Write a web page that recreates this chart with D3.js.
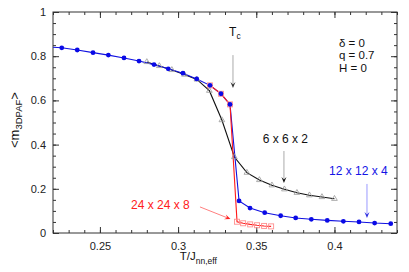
<!DOCTYPE html>
<html>
<head>
<meta charset="utf-8">
<script src="https://cdn.jsdelivr.net/npm/d3@7"></script>
<style>
  body { margin: 0; background: #fff; }
  text { font-family: "Liberation Sans", Arial, sans-serif; }
</style>
</head>
<body>
<div id="chart"></div>
<script>
// 12 x 12 x 4 (blue, filled circles)
const tBlue = [0.2158, 0.2256, 0.2355, 0.2456, 0.2554, 0.2654, 0.2750, 0.2846, 0.2937, 0.3031, 0.3119,
    0.3204, 0.3274, 0.3332, 0.3390, 0.3460, 0.3554, 0.3656, 0.3752, 0.3852, 0.3954, 0.4057, 0.4157, 0.4257, 0.4360];
const mBlue = [0.842, 0.838, 0.828, 0.816, 0.805, 0.792, 0.778, 0.762, 0.743, 0.723, 0.697,
    0.668, 0.630, 0.582, 0.145, 0.113, 0.092, 0.078, 0.068, 0.062, 0.057, 0.053, 0.050, 0.045, 0.042];

// 24 x 24 x 8 (red, open squares)
const tRed = [0.3204, 0.3274, 0.3332, 0.3377, 0.3416, 0.3461, 0.3505, 0.3550, 0.3595];
const mRed = [0.668, 0.630, 0.582, 0.051, 0.044, 0.039, 0.035, 0.032, 0.030];

// 6 x 6 x 2 (black, open triangles)
const tBlack = [0.28, 0.288, 0.296, 0.304, 0.312, 0.32, 0.328, 0.336, 0.344, 0.352, 0.36, 0.368, 0.376, 0.384, 0.392, 0.4];
const mBlack = [0.774, 0.756, 0.738, 0.717, 0.695, 0.644, 0.511, 0.344, 0.273, 0.240, 0.216, 0.198, 0.182, 0.171, 0.163, 0.155];

const xTicks = [0.25, 0.3, 0.35, 0.4];
const yTicks = [0, 0.2, 0.4, 0.6, 0.8, 1];

const width = 409, height = 272;
const margin = {top: 12, right: 12, bottom: 39, left: 53};
const w = width - margin.left - margin.right;
const h = height - margin.top - margin.bottom;

let svg = d3.select("#chart")
    .append("svg")
    .attr("width", width)
    .attr("height", height)
    .append("g")
    .attr("transform", `translate(${margin.left}, ${margin.top})`);

let x = d3.scaleLinear().domain([0.22, 0.44]).range([0, w]);
let y = d3.scaleLinear().domain([0, 1]).range([h, 0]);

const axisColor = "#333";

// minor ticks every 0.01 / 0.05, inward on all four sides
const xMinor = d3.range(0.22, 0.4401, 0.01);
const yMinor = d3.range(0, 1.001, 0.05);

function styleAxis(g) {
    g.select(".domain").remove();
    g.selectAll("line").attr("stroke", axisColor);
    g.selectAll("text")
        .attr("fill", "#222")
        .style("font-size", "11px");
}

svg.append("g").attr("transform", `translate(0, ${h})`)
    .call(d3.axisBottom(x).tickValues(xMinor).tickSize(-3).tickFormat(""))
    .call(styleAxis);
svg.append("g")
    .call(d3.axisTop(x).tickValues(xMinor).tickSize(-3).tickFormat(""))
    .call(styleAxis);
svg.append("g").attr("transform", `translate(0, ${h})`)
    .call(d3.axisBottom(x).tickValues(xTicks).tickSize(-6).tickPadding(9).tickFormat(d3.format("")))
    .call(styleAxis);
svg.append("g")
    .call(d3.axisTop(x).tickValues(xTicks).tickSize(-6).tickFormat(""))
    .call(styleAxis);

svg.append("g")
    .call(d3.axisLeft(y).tickValues(yMinor).tickSize(-3).tickFormat(""))
    .call(styleAxis);
svg.append("g").attr("transform", `translate(${w}, 0)`)
    .call(d3.axisRight(y).tickValues(yMinor).tickSize(-3).tickFormat(""))
    .call(styleAxis);
svg.append("g")
    .call(d3.axisLeft(y).tickValues(yTicks).tickSize(-6).tickPadding(7).tickFormat(d3.format("")))
    .call(styleAxis);
svg.append("g").attr("transform", `translate(${w}, 0)`)
    .call(d3.axisRight(y).tickValues(yTicks).tickSize(-6).tickFormat(""))
    .call(styleAxis);

// frame
svg.append("rect")
    .attr("width", w)
    .attr("height", h)
    .attr("fill", "none")
    .attr("stroke", axisColor)
    .attr("stroke-width", 1);

svg.append("clipPath").attr("id", "clip")
    .append("rect").attr("width", w).attr("height", h);

let plot = svg.append("g").attr("clip-path", "url(#clip)");

const toPts = (ts, ms) => ts.map((t, i) => [t, ms[i]]);
const blue = toPts(tBlue, mBlue);
const red = toPts(tRed, mRed);
const black = toPts(tBlack, mBlack);

let line = d3.line()
    .x(function (d) { return x(d[0]); })
    .y(function (d) { return y(d[1]); });

plot.append("path").datum(black)
    .attr("d", line).attr("fill", "none")
    .attr("stroke", "#111").attr("stroke-width", 1.1);

plot.append("path").datum(blue)
    .attr("d", line).attr("fill", "none")
    .attr("stroke", "#1010e0").attr("stroke-width", 1.1);

plot.append("path").datum(red)
    .attr("d", line).attr("fill", "none")
    .attr("stroke", "#ff1a1a").attr("stroke-width", 1.1);

// open squares
plot.selectAll("rect.red")
    .data(red)
    .enter()
    .append("rect")
    .attr("class", "red")
    .attr("x", function (d) { return x(d[0]) - 2.5; })
    .attr("y", function (d) { return y(d[1]) - 2.5; })
    .attr("width", 5)
    .attr("height", 5)
    .attr("fill", "none")
    .attr("stroke", "#ff8f8f")
    .attr("stroke-width", 0.9);

// open triangles
let tri = d3.symbol().type(d3.symbolTriangle).size(14);
plot.selectAll("path.tri")
    .data(black)
    .enter()
    .append("path")
    .attr("class", "tri")
    .attr("d", tri)
    .attr("transform", function (d) { return `translate(${x(d[0])}, ${y(d[1])})`; })
    .attr("fill", "none")
    .attr("stroke", "#999")
    .attr("stroke-width", 0.8);

// filled circles
plot.selectAll("circle")
    .data(blue)
    .enter()
    .append("circle")
    .attr("cx", function (d) { return x(d[0]); })
    .attr("cy", function (d) { return y(d[1]); })
    .attr("r", 2.4)
    .attr("fill", "#0a0ae6");

// arrows (line + small head), positioned in data coordinates
function arrow(t1, m1, t2, m2, lineColor, headColor) {
    const x1 = x(t1), y1 = y(m1), x2 = x(t2), y2 = y(m2);
    const ang = Math.atan2(y2 - y1, x2 - x1);
    const len = 6, half = 2.5;
    svg.append("line")
        .attr("x1", x1).attr("y1", y1)
        .attr("x2", x2 - Math.cos(ang) * 3).attr("y2", y2 - Math.sin(ang) * 3)
        .attr("stroke", lineColor).attr("stroke-width", 1);
    const bx = x2 - Math.cos(ang) * len, by = y2 - Math.sin(ang) * len;
    const px = -Math.sin(ang) * half, py = Math.cos(ang) * half;
    svg.append("path")
        .attr("d", `M${x2},${y2}L${bx + px},${by + py}L${x2 - Math.cos(ang) * 3.5},${y2 - Math.sin(ang) * 3.5}L${bx - px},${by - py}Z`)
        .attr("fill", headColor);
}

arrow(0.3351, 0.805, 0.3351, 0.656, "#aaa", "#333");
arrow(0.3677, 0.371, 0.3677, 0.226, "#aaa", "#111");
arrow(0.4208, 0.222, 0.4208, 0.068, "#9a9aff", "#3030e0");
arrow(0.314, 0.118, 0.3335, 0.063, "#ff8080", "#ff2020");

// labels
function addText(t, m, str, color, size, anchor) {
    return svg.append("text")
        .attr("x", x(t)).attr("y", y(m))
        .attr("fill", color)
        .attr("text-anchor", anchor || "start")
        .style("font-size", size + "px")
        .text(str);
}

let tc = addText(0.3326, 0.89, "T", "#111", 12);
tc.append("tspan").attr("dy", 3).style("font-size", "8.5px").text("c");

addText(0.4029, 0.842, "δ = 0", "#111", 11.5);
addText(0.4029, 0.786, "q = 0.7", "#111", 11.5);
addText(0.4029, 0.729, "H = 0", "#111", 11.5);

addText(0.3541, 0.407, "6 x 6 x 2", "#111", 12);
addText(0.3965, 0.262, "12 x 12 x 4", "#1414e6", 12);
addText(0.2699, 0.109, "24 x 24 x 8", "#ff2020", 12);

// axis titles
let xt = svg.append("text")
    .attr("x", x(0.3011))
    .attr("y", h + 27)
    .attr("fill", "#111")
    .style("font-size", "11.5px")
    .text("T/J");
xt.append("tspan").attr("dy", 4).style("font-size", "8.5px").text("nn,eff");

let yt = svg.append("text")
    .attr("transform", `translate(${19 - margin.left}, ${120 - margin.top}) rotate(-90)`)
    .attr("text-anchor", "middle")
    .attr("fill", "#111")
    .style("font-size", "13px");
yt.append("tspan").text("<m");
yt.append("tspan").attr("dy", 3).style("font-size", "9.5px").text("3DPAF");
yt.append("tspan").attr("dy", -3).text(">");
</script>
</body>
</html>
